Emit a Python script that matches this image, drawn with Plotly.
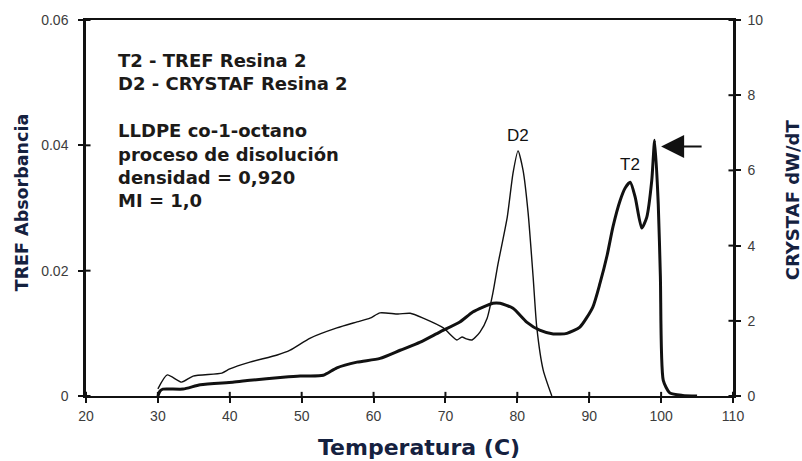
import plotly.graph_objects as go

# TREF trace (left axis, absorbance)
tref_temp = [30.0, 30.3, 30.7, 33.5, 35.9, 40.4, 42.8, 47.4, 49.8, 53.0, 54.9, 57.7,
             60.9, 63.7, 66.5, 69.2, 72.0, 73.8, 76.6, 77.6, 79.4, 81.3, 83.1, 85.0,
             86.9, 88.7, 90.5, 91.5, 92.5, 93.3, 94.3, 95.0, 95.7, 96.4, 97.3, 98.0,
             98.7, 99.1, 99.6, 99.9, 100.3, 101.2, 103.0, 105.0]
tref_abs = [0.0, 0.0008, 0.0011, 0.0011, 0.0018, 0.0022, 0.0025, 0.0030, 0.0032, 0.0033,
            0.0045, 0.0054, 0.0060, 0.0073, 0.0086, 0.0102, 0.0118, 0.0134, 0.0148, 0.0148,
            0.0140, 0.0118, 0.0105, 0.0099, 0.0100, 0.0110, 0.0142, 0.0180, 0.0225, 0.0270,
            0.0312, 0.0332, 0.0341, 0.0317, 0.0268, 0.0285, 0.0344, 0.0408, 0.0307, 0.0190,
            0.0025, 0.0005, 0.0001, 0.0]

# CRYSTAF trace (right axis, dW/dT)
crystaf_temp = [30.0, 31.3, 33.3, 34.9, 38.9, 40.0, 42.8, 46.6, 48.4, 51.2, 54.9, 57.7,
                59.5, 60.9, 63.4, 65.1, 66.9, 69.7, 71.6, 72.3, 72.9, 73.7, 74.8, 75.8,
                76.6, 77.3, 78.6, 79.4, 80.1, 80.8, 81.5, 82.2, 82.7, 83.6, 84.8]
crystaf_dwdt = [0.19, 0.56, 0.37, 0.53, 0.61, 0.72, 0.90, 1.09, 1.22, 1.54, 1.81, 1.97,
                2.07, 2.21, 2.18, 2.20, 2.07, 1.81, 1.49, 1.57, 1.52, 1.49, 1.70, 2.07,
                2.74, 3.50, 4.76, 5.93, 6.52, 6.00, 4.87, 3.16, 1.84, 0.69, 0.0]

x_ticks = [20, 30, 40, 50, 60, 70, 80, 90, 100, 110]
left_ticks = [0, 0.02, 0.04, 0.06]
left_tick_text = ["0", "0.02", "0.04", "0.06"]
right_ticks = [0, 2, 4, 6, 8, 10]

info_lines = ["T2 - TREF Resina 2", "D2 - CRYSTAF Resina 2", "",
              "LLDPE co-1-octano", "proceso de disolución",
              "densidad = 0,920", "MI = 1,0"]

INK = "#111111"
TITLE_COLOR = "#15213f"
TICK_FONT = dict(family="Liberation Sans, Arial, sans-serif", size=14, color="#3c3c3c")
BOLD = "DejaVu Sans, Verdana, sans-serif"
TICK_IN_X = 0.011   # inward tick length along the x axis, fraction of plot height
TICK_IN_Y = 0.007   # inward tick length along the y axes, fraction of plot width

fig = go.Figure()

fig.add_trace(go.Scatter(x=tref_temp, y=tref_abs, mode="lines", name="T2",
                         line=dict(color=INK, width=3, shape="spline", smoothing=0.6),
                         xaxis="x", yaxis="y"))
fig.add_trace(go.Scatter(x=crystaf_temp, y=crystaf_dwdt, mode="lines", name="D2",
                         line=dict(color=INK, width=1.4, shape="spline", smoothing=0.6),
                         xaxis="x", yaxis="y2"))

x_rng = [x_ticks[0], x_ticks[-1]]
l_rng = [left_ticks[0], left_ticks[-1]]
r_rng = [right_ticks[0], right_ticks[-1]]

tick_style = dict(ticks="outside", ticklen=5, tickwidth=2, tickcolor=INK)

fig.update_layout(
    width=802, height=461,
    margin=dict(l=86, r=69, t=20, b=65),
    paper_bgcolor="white", plot_bgcolor="white",
    showlegend=False,
    xaxis=dict(range=x_rng, tickvals=x_ticks, showline=True, linecolor=INK,
               linewidth=2, mirror=True, showgrid=False, zeroline=False,
               tickfont=TICK_FONT, ticklabelstandoff=1, **tick_style),
    yaxis=dict(range=l_rng, tickvals=left_ticks, ticktext=left_tick_text,
               showline=True, linecolor=INK, linewidth=2.5, showgrid=False,
               zeroline=False, tickfont=TICK_FONT, ticklabelstandoff=7, **tick_style),
    yaxis2=dict(range=r_rng, tickvals=right_ticks, overlaying="y", side="right",
                showline=True, linecolor=INK, linewidth=2.5, showgrid=False,
                zeroline=False, tickfont=TICK_FONT, ticklabelstandoff=4, **tick_style),
)

# inner halves of the tick marks, so each tick crosses its axis line
tick_line = dict(color=INK, width=2)
shapes = []
for t in x_ticks:
    shapes.append(dict(type="line", xref="x", yref="paper", x0=t, x1=t,
                       y0=0, y1=TICK_IN_X, line=tick_line))
for t in left_ticks:
    shapes.append(dict(type="line", xref="paper", yref="y", x0=0, x1=TICK_IN_Y,
                       y0=t, y1=t, line=tick_line))
for t in right_ticks:
    shapes.append(dict(type="line", xref="paper", yref="y2", x0=1 - TICK_IN_Y, x1=1,
                       y0=t, y1=t, line=tick_line))

annotations = [
    # axis titles
    dict(text="Temperatura (C)", x=0.514, y=-0.136, xref="paper", yref="paper",
         xanchor="center", yanchor="middle", showarrow=False,
         font=dict(family=BOLD, size=22, color=TITLE_COLOR, weight="bold")),
    dict(text="TREF Absorbancia", x=-0.099, y=0.515, xref="paper", yref="paper",
         xanchor="center", yanchor="middle", textangle=-90, showarrow=False,
         font=dict(family=BOLD, size=17.5, color=TITLE_COLOR, weight="bold")),
    dict(text="CRYSTAF dW/dT", x=1.092, y=0.522, xref="paper", yref="paper",
         xanchor="center", yanchor="middle", textangle=-90, showarrow=False,
         font=dict(family=BOLD, size=18, color=TITLE_COLOR, weight="bold")),
    # description block
    dict(text="<br>".join(info_lines), x=0.046, y=0.925, xref="paper", yref="paper",
         xanchor="left", yanchor="top", align="left", showarrow=False,
         font=dict(family=BOLD, size=18, color="#1c1a18", weight="bold")),
    # peak labels
    dict(text="D2", x=80.1, y=0.0416, xref="x", yref="y", showarrow=False,
         xanchor="center", yanchor="middle",
         font=dict(family="Liberation Sans, Arial, sans-serif", size=17, color=INK)),
    dict(text="T2", x=95.7, y=0.0370, xref="x", yref="y", showarrow=False,
         xanchor="center", yanchor="middle",
         font=dict(family="Liberation Sans, Arial, sans-serif", size=17, color=INK)),
    # arrow pointing at the TREF high-temperature peak
    dict(text="", x=100.0, y=0.0398, xref="x", yref="y", ax=42, ay=0,
         showarrow=True, arrowhead=2, arrowsize=2.3, arrowwidth=2, arrowcolor=INK,
         standoff=0),
]
fig.update_layout(annotations=annotations, shapes=shapes)

fig.write_html("out.html")
